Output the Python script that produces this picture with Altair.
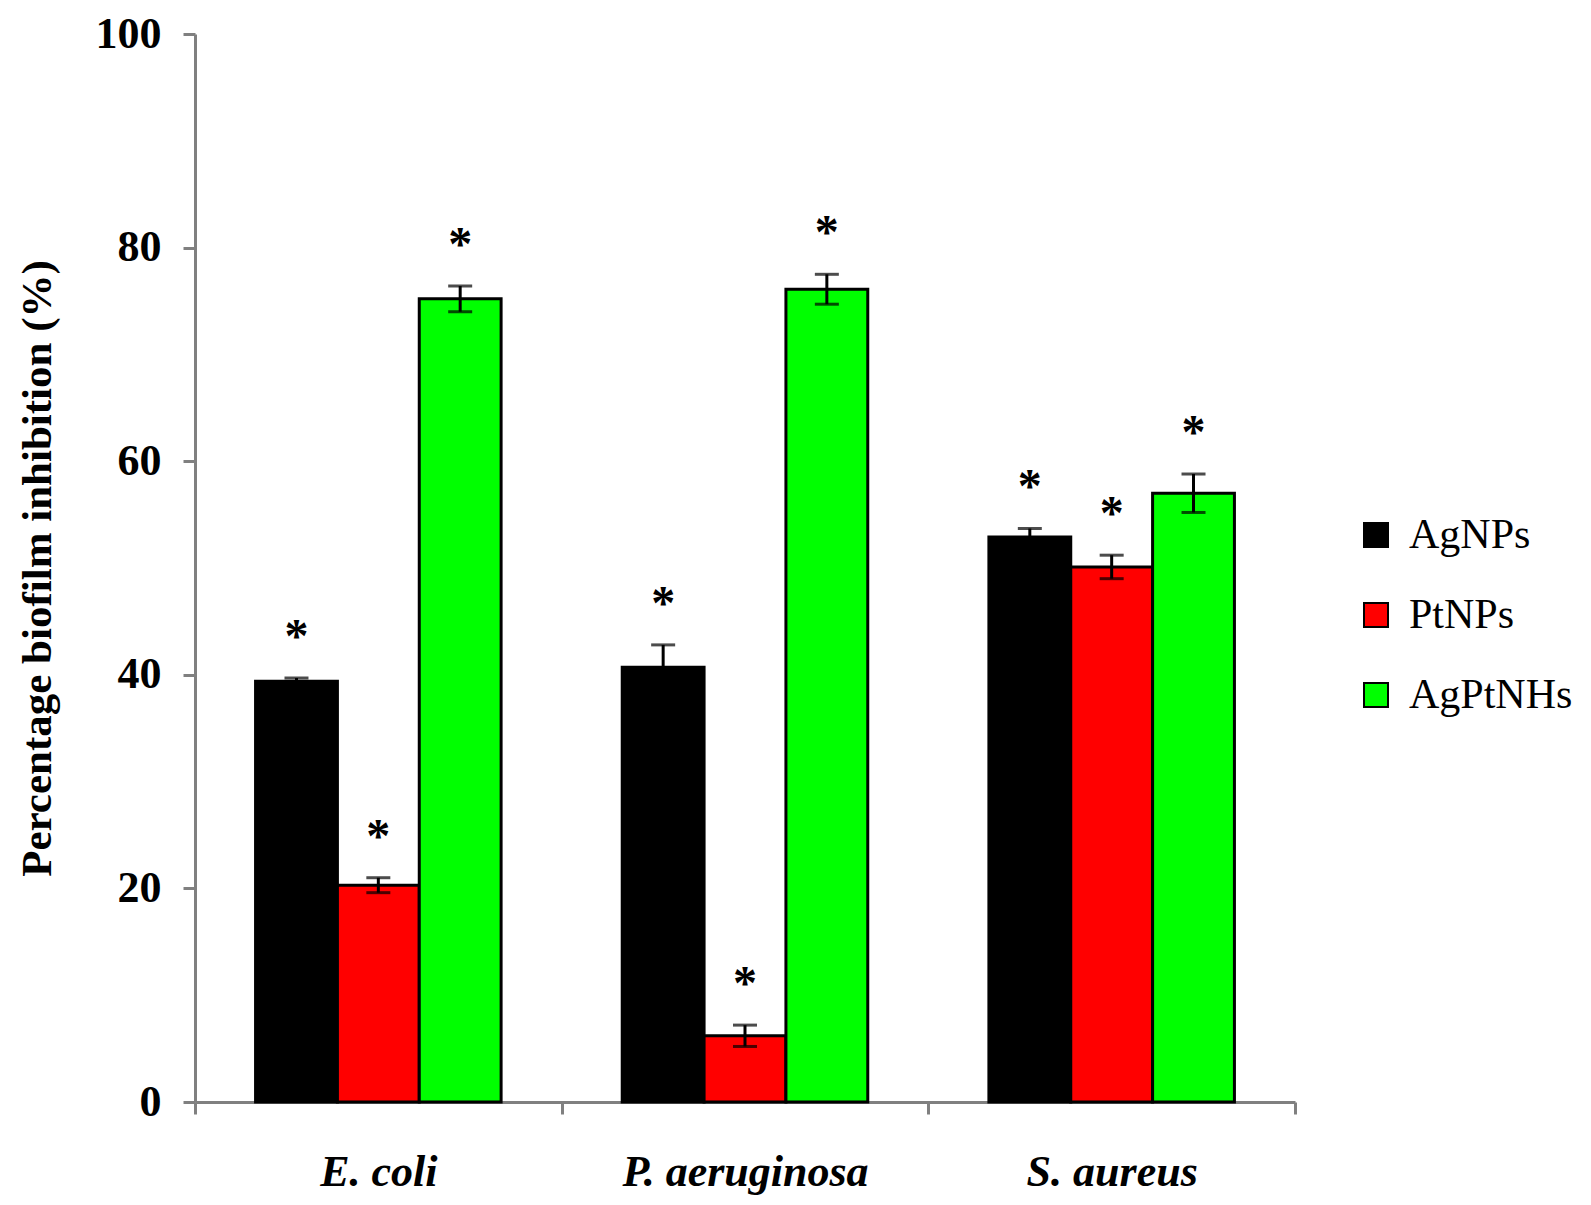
import altair as alt
import pandas as pd

organisms = ["E. coli", "P. aeruginosa", "S. aureus"]
treatments = ["AgNPs", "PtNPs", "AgPtNHs"]
agnps = [39.4, 40.7, 52.9]
agnps_err = [0.3, 2.1, 0.8]
ptnps = [20.3, 6.2, 50.1]
ptnps_err = [0.7, 1.0, 1.1]
agptnhs = [75.2, 76.1, 57.0]
agptnhs_err = [1.2, 1.4, 1.8]
colors = ["#000000", "#ff0000", "#00ff00"]

rows = []
for t, vals, errs in zip(treatments, [agnps, ptnps, agptnhs], [agnps_err, ptnps_err, agptnhs_err]):
    for o, v, e in zip(organisms, vals, errs):
        rows.append({"organism": o, "treatment": t, "value": v, "err": e})
df = pd.DataFrame(rows)

FONT = "Liberation Serif"
GRAY = "#808080"

x_enc = alt.X(
    "organism:N", sort=organisms,
    scale=alt.Scale(paddingInner=0, paddingOuter=0),
    axis=alt.Axis(
        title=None, labelAngle=0, labelFont=FONT, labelFontSize=44,
        labelFontStyle="italic", labelFontWeight="bold", labelColor="black",
        domainColor=GRAY, domainWidth=3, tickColor=GRAY, tickWidth=3,
        tickSize=12, tickBand="extent", labelPadding=36, labelLimit=0,
    ),
)
xo_enc = alt.XOffset("treatment:N", sort=treatments,
                     scale=alt.Scale(paddingInner=0, paddingOuter=0.74))

base = alt.Chart(df).encode(x=x_enc, xOffset=xo_enc).transform_calculate(
    lo="datum.value - datum.err", hi="datum.value + datum.err"
)

y_scale = alt.Scale(domain=[0, 100], nice=False, zero=True)

bars = base.mark_bar(stroke="black", strokeWidth=3).encode(
    y=alt.Y(
        "value:Q", scale=y_scale,
        axis=alt.Axis(
            values=[0, 20, 40, 60, 80, 100], title="Percentage biofilm inhibition (%)",
            titleFont=FONT, titleFontSize=43, titleFontWeight="bold", titleColor="black",
            titlePadding=36, labelFont=FONT, labelFontSize=44, labelFontWeight="bold",
            labelColor="black", labelPadding=22, tickSize=12, tickColor=GRAY, tickWidth=3,
            domainColor=GRAY, domainWidth=3, grid=False,
        ),
    ),
    color=alt.Color(
        "treatment:N", sort=treatments,
        scale=alt.Scale(domain=treatments, range=colors),
        legend=alt.Legend(
            title=None, orient="none", legendX=1160, legendY=480,
            symbolType="square", symbolSize=576, symbolStrokeColor="black",
            symbolStrokeWidth=2, labelFont=FONT, labelFontSize=42,
            labelColor="black", rowPadding=38, labelOffset=12, labelLimit=0,
        ),
    ),
)

rule = base.mark_rule(color="black", strokeWidth=3).encode(
    y=alt.Y("lo:Q", scale=y_scale), y2="hi:Q"
)
cap_lo = base.mark_tick(color="black", thickness=3, size=24).encode(
    y=alt.Y("lo:Q", scale=y_scale)
)
cap_hi = base.mark_tick(color="black", thickness=3, size=24).encode(
    y=alt.Y("hi:Q", scale=y_scale)
)
stars = base.mark_text(
    text="*", font=FONT, fontWeight="bold", fontSize=48, baseline="middle", dy=-40, color="black"
).encode(y=alt.Y("hi:Q", scale=y_scale))

chart = alt.layer(bars, rule, cap_lo, cap_hi, stars).properties(
    width=1100, height=1068, background="white",
    autosize=alt.AutoSizeParams(type="none"),
    padding={"left": 187, "top": 26, "right": 288, "bottom": 95},
).configure_view(stroke=None)

chart.save("out.html", embed_options={"renderer": "svg", "actions": False})
